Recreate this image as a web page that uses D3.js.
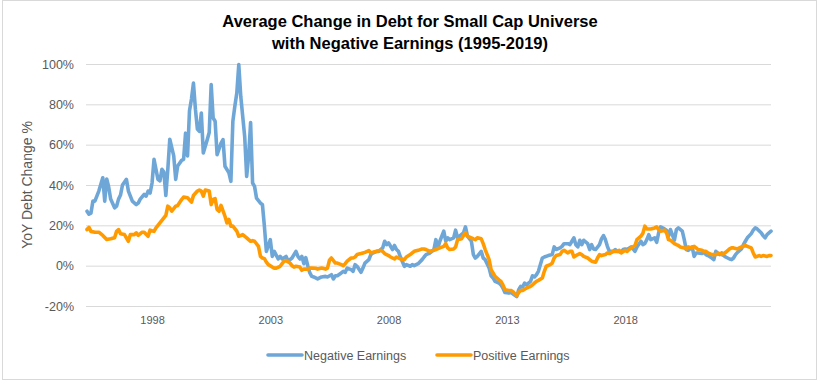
<!DOCTYPE html>
<html>
<head>
<meta charset="utf-8">
<script src="https://cdn.jsdelivr.net/npm/d3@7"></script>
<style>
  html, body { margin: 0; padding: 0; background: #fff; }
  svg { display: block; }
  text { font-family: "Liberation Sans", Arial, sans-serif; }
</style>
</head>
<body>
<svg id="chart" width="820" height="384"></svg>
<script>
// Months are counted from January 1995 (0 = Jan 1995)
const titleLines = ["Average Change in Debt for Small Cap Universe", "with Negative Earnings (1995-2019)"];
const yAxisTitle = "YoY Debt Change %";
const xTickYears = [1998, 2003, 2008, 2013, 2018];
const yTicks = [-20, 0, 20, 40, 60, 80, 100];
const seriesNames = ["Negative Earnings", "Positive Earnings"];
const seriesColors = ["#6ea7d7", "#ff9b00"];

const negativeEarnings = [
  [3,27],[4,25.5],[5,26],[6,32],[7,32],[9,37],[11,43.6],[12,32],[13,43],[14,39],[15,33],[17,28.7],[18,29.5],[19,33],[20,35],[21,40],[23,42.8],[24,37],[26,32],[28,30.3],[29,31],[30,33],[32,35.3],[33,34.5],[34,37],[35,36],[36,41],[37,52.7],[39,42.8],[40,42],[41,47.8],[42,46.4],[43,34.8],[44,47.8],[45,62.7],[47,54.4],[48,42.8],[49,49.4],[51,52.2],[52,52.7],[53,65.7],[54,54.4],[55,76.8],[56,82.6],[57,90.5],[58,77.6],[59,67.7],[60,66.6],[61,75.7],[62,55.9],[64,62.5],[65,66],[66,89.8],[67,73.2],[68,71.6],[69,55],[71,60.8],[72,62.5],[73,49.3],[75,46],[76,41.8],[77,71.6],[78,79],[79,85.6],[80,99.7],[81,84],[83,64],[84,44.3],[85,54.2],[86,71],[87,41],[88,39.3],[89,33.5],[91,31],[92,30.2],[93,19.5],[94,7.1],[96,12.9],[97,4.6],[98,7.1],[100,3.3],[101,4.6],[102,3.3],[104,4.6],[105,2.2],[106,3],[107,3.8],[109,7.1],[110,4.6],[111,3.3],[112,4.6],[113,1],[114,4],[115,0],[116,-3.5],[117,-5.3],[118,-5.6],[120,-6.6],[122,-5.6],[124,-5.3],[125,-5.6],[127,-4.5],[128,-6.6],[129,-5],[130,-5],[132,-3.6],[133,-2.8],[134,-3.3],[135,-1.2],[137,-2],[138,-2.8],[139,0.5],[140,-0.3],[142,-3.3],[143,-1.2],[144,1.3],[146,3],[147,5.5],[148,6.3],[150,7.1],[151,7.1],[153,8.8],[154,12.1],[155,10.4],[156,11.3],[158,8],[159,10],[160,8],[161,7.1],[162,4.3],[164,-0.3],[165,0.5],[167,-0.3],[168,0.5],[169,0],[171,1],[173,3],[174,4.3],[175,5.5],[177,6.3],[179,8],[180,12.9],[181,8.8],[182,12.1],[184,17.1],[185,12.1],[186,13.8],[187,12.9],[189,13.8],[190,17.6],[191,13.8],[192,14.6],[194,16.3],[195,19.2],[196,14.6],[198,12.1],[199,5.5],[200,3.8],[201,4.6],[203,7.1],[204,3.8],[205,3],[207,-1.2],[208,-5],[209,-6.1],[210,-7.8],[212,-8.6],[213,-9.5],[214,-11.1],[215,-13.3],[217,-13.6],[218,-13.3],[219,-13.9],[221,-15.3],[222,-11.9],[223,-10.3],[224,-10.6],[225,-8.6],[226,-9.5],[228,-7.8],[229,-5],[230,-5.6],[231,-4.5],[232,-2.8],[234,3.8],[235,4.3],[237,5],[239,5.5],[240,9.3],[241,8],[243,8.8],[244,9.6],[245,10.9],[247,10.9],[248,10.4],[249,12.1],[250,13.8],[251,10.4],[252,9.3],[253,12.6],[254,10.4],[255,12.6],[257,10.9],[258,8],[259,10.4],[260,8.3],[261,8],[263,10.4],[264,13.3],[265,14.9],[266,12.9],[267,9.6],[268,7.1],[270,7.1],[271,8],[272,7.1],[274,6.6],[275,8],[276,8.3],[277,8],[279,9.3],[280,8.3],[281,7.1],[282,9.3],[284,12.1],[285,10.4],[286,11],[287,12.9],[288,15.4],[289,12.9],[291,13.8],[292,11.6],[293,16.3],[294,19.2],[296,18.2],[297,17.6],[298,14.6],[299,17.9],[301,12.6],[302,17.9],[303,18.7],[305,17.1],[306,12.9],[307,8],[308,7.6],[310,9.3],[311,4.6],[312,6.3],[313,6.3],[315,6],[316,6.6],[317,5.5],[318,5],[320,3.8],[321,3],[322,7.1],[324,5.5],[325,6.3],[326,5],[327,4.3],[329,3.3],[330,3],[331,3.8],[332,5.5],[333,6.6],[335,8.3],[336,10.4],[337,12.1],[338,13.8],[340,15.9],[341,17.6],[342,18.7],[343,18.2],[345,16.3],[346,14.9],[347,13.8],[348,15.4],[350,17.1]
];

const positiveEarnings = [
  [3,17.9],[4,19],[5,17],[7,16.6],[9,16.6],[11,15],[13,13],[15,13.3],[17,13.8],[18,17],[19,17.9],[20,15.8],[22,15.4],[24,12.1],[25,15.4],[27,15.4],[28,16.3],[29,15],[31,16.6],[32,16.6],[34,14.6],[35,17.6],[37,17],[38,18.7],[40,21.2],[42,23.7],[43,24.9],[44,29.5],[45,28.7],[46,27],[48,29.5],[49,29.8],[51,32.8],[52,34],[54,33.7],[56,31.5],[57,34.8],[59,37],[60,37.5],[61,37],[62,34.5],[63,37.5],[65,37],[66,30.3],[67,32.8],[68,33.2],[69,27.9],[70,27],[71,29.9],[73,24.5],[74,21.2],[75,22.9],[76,19.6],[77,19.6],[79,17.1],[80,14.6],[81,14.9],[82,15.4],[84,13.8],[85,12.9],[86,12.1],[87,12.4],[88,12.1],[90,9.6],[91,4.6],[92,3.8],[93,3.5],[94,1.7],[95,0.5],[97,-0.7],[98,-1.2],[99,-1.2],[101,-0.3],[102,1],[103,2.2],[104,2.5],[106,1.3],[107,0],[108,-0.7],[109,-0.3],[111,-0.7],[112,-2.3],[113,-1.7],[115,-1.7],[116,-1.2],[117,-1.2],[119,-1.3],[120,-1.7],[122,-1.2],[124,-1.7],[125,-1.2],[126,2.7],[127,3.8],[129,1.3],[130,1.3],[132,0.5],[133,0],[134,1],[135,2.2],[137,3.8],[138,3.8],[139,4.3],[140,5.5],[142,6],[143,6.3],[144,6.6],[146,7.5],[147,6.3],[148,6.6],[150,7.1],[152,7.6],[153,7.1],[154,6],[156,5],[157,4.3],[159,3.3],[160,4.3],[161,3.8],[162,3.3],[164,3],[165,4.3],[167,5.5],[168,6.3],[169,7.1],[171,7.6],[173,8.3],[174,8.3],[175,8],[177,7.1],[179,7.6],[180,8],[182,8.8],[184,9.6],[185,10.9],[186,8.8],[187,8],[189,8.3],[190,9.3],[191,12.9],[193,13.3],[194,14.9],[195,16.3],[196,14.6],[198,13.8],[199,13.3],[200,12.9],[201,13.8],[203,13.3],[204,10.9],[205,8],[207,3],[208,-2],[209,-3.6],[210,-5.3],[212,-7],[213,-7.8],[214,-9.5],[215,-11.9],[217,-12.3],[218,-12.3],[219,-12.8],[221,-14.9],[222,-13.3],[223,-12.3],[224,-12.3],[226,-11.1],[227,-10.6],[228,-10.3],[229,-9.5],[230,-8.6],[231,-7.8],[232,-7.3],[234,-6.1],[235,-2.8],[236,-0.3],[238,0.5],[239,1.3],[240,3.8],[241,5],[243,5.5],[244,7.1],[245,7.6],[247,6.3],[248,7.1],[249,7.1],[250,4.3],[252,5.5],[253,6],[254,5.5],[255,4.6],[257,3.8],[258,3],[259,2.2],[261,1.7],[262,3.8],[263,5.5],[264,5],[266,5.5],[267,6.3],[268,6],[270,7.1],[272,7.1],[273,7.6],[274,6.3],[276,7.6],[277,7.1],[278,8],[279,8.8],[281,10],[282,12.9],[284,14.6],[285,16],[286,19.6],[287,18.2],[288,18.2],[289,18.2],[291,18.7],[292,19.2],[293,17.9],[294,17.1],[296,17.6],[297,16.3],[298,12.9],[299,12.6],[301,10.9],[302,10.4],[303,10],[304,9.3],[306,8.8],[307,8.3],[308,9.3],[310,8.8],[311,9.6],[312,8.8],[313,8],[315,7.6],[316,7.1],[317,7.1],[318,6.3],[320,5.5],[321,5.5],[322,5.5],[324,6],[325,5.5],[326,6],[327,6.6],[329,8.3],[330,8.8],[331,8.8],[333,8.3],[334,8.8],[335,9.3],[336,9.6],[337,10],[338,9.6],[340,8.8],[341,6.3],[342,4.3],[344,5],[345,4.6],[346,5],[348,4.6],[349,5],[350,5]
];

const svg = d3.select("#chart");
const plot = { left: 87, right: 771, top: 64, bottom: 306 };
const narrowFont = "'Liberation Sans Narrow', 'Liberation Sans', Arial, sans-serif";

// chart border
svg.append("rect")
  .attr("x", 2.5).attr("y", 0.5).attr("width", 814).attr("height", 379)
  .attr("fill", "#fff").attr("stroke", "#d9d9d9").attr("stroke-width", 1);

const x = d3.scaleLinear().domain([3, 350]).range([plot.left, plot.right]);
const y = d3.scaleLinear().domain([-20, 100]).range([plot.bottom, plot.top]);

// gridlines
svg.append("g")
  .attr("transform", `translate(${plot.left - 1},0)`)
  .call(d3.axisLeft(y).tickValues(yTicks).tickSize(-(plot.right - plot.left + 1)).tickFormat(""))
  .call(g => g.select(".domain").remove())
  .call(g => g.selectAll(".tick line").attr("stroke", "#d9d9d9").attr("stroke-width", 1));

// y axis labels
svg.append("g")
  .attr("transform", `translate(${plot.left - 13},0)`)
  .call(d3.axisLeft(y).tickValues(yTicks).tickSize(0).tickPadding(0).tickFormat(d => d + "%"))
  .call(g => g.select(".domain").remove())
  .call(g => g.selectAll("text")
    .attr("fill", "#595959").attr("font-size", "12.5px").attr("font-family", narrowFont));

// x axis labels
svg.append("g")
  .attr("transform", `translate(0,${plot.bottom + 10})`)
  .call(d3.axisBottom(x).tickValues(xTickYears.map(yr => (yr - 1995) * 12)).tickSize(0).tickPadding(0)
    .tickFormat((d, i) => xTickYears[i]))
  .call(g => g.select(".domain").remove())
  .call(g => g.selectAll("text")
    .attr("fill", "#595959").attr("font-size", "11px").attr("font-family", narrowFont));

// y axis title
svg.append("text")
  .attr("transform", "translate(32,185) rotate(-90)")
  .attr("text-anchor", "middle")
  .attr("fill", "#595959").attr("font-size", "14px").attr("font-family", narrowFont)
  .text(yAxisTitle);

// title
svg.append("g").selectAll("text").data(titleLines).join("text")
  .attr("x", 410).attr("y", (d, i) => 27 + i * 22)
  .attr("text-anchor", "middle")
  .attr("font-weight", "bold").attr("font-size", "16.5px").attr("fill", "#000")
  .attr("font-family", narrowFont)
  .text(d => d);

// lines
const line = d3.line().x(d => x(d[0])).y(d => y(d[1])).curve(d3.curveLinear);
[negativeEarnings, positiveEarnings].forEach((data, i) => {
  svg.append("path")
    .datum(data)
    .attr("fill", "none")
    .attr("stroke", seriesColors[i])
    .attr("stroke-width", 3.6)
    .attr("stroke-linejoin", "round")
    .attr("stroke-linecap", "round")
    .attr("d", line);
});

// legend
const legendItems = [
  { x0: 268, x1: 302, tx: 304 },
  { x0: 437, x1: 471, tx: 473 }
];
const lg = svg.append("g");
legendItems.forEach((it, i) => {
  lg.append("line")
    .attr("x1", it.x0).attr("x2", it.x1).attr("y1", 355).attr("y2", 355)
    .attr("stroke", seriesColors[i]).attr("stroke-width", 3.6).attr("stroke-linecap", "round");
  lg.append("text")
    .attr("x", it.tx).attr("y", 359.5)
    .attr("fill", "#595959").attr("font-size", "12.5px").attr("font-family", narrowFont)
    .text(seriesNames[i]);
});
</script>
</body>
</html>
